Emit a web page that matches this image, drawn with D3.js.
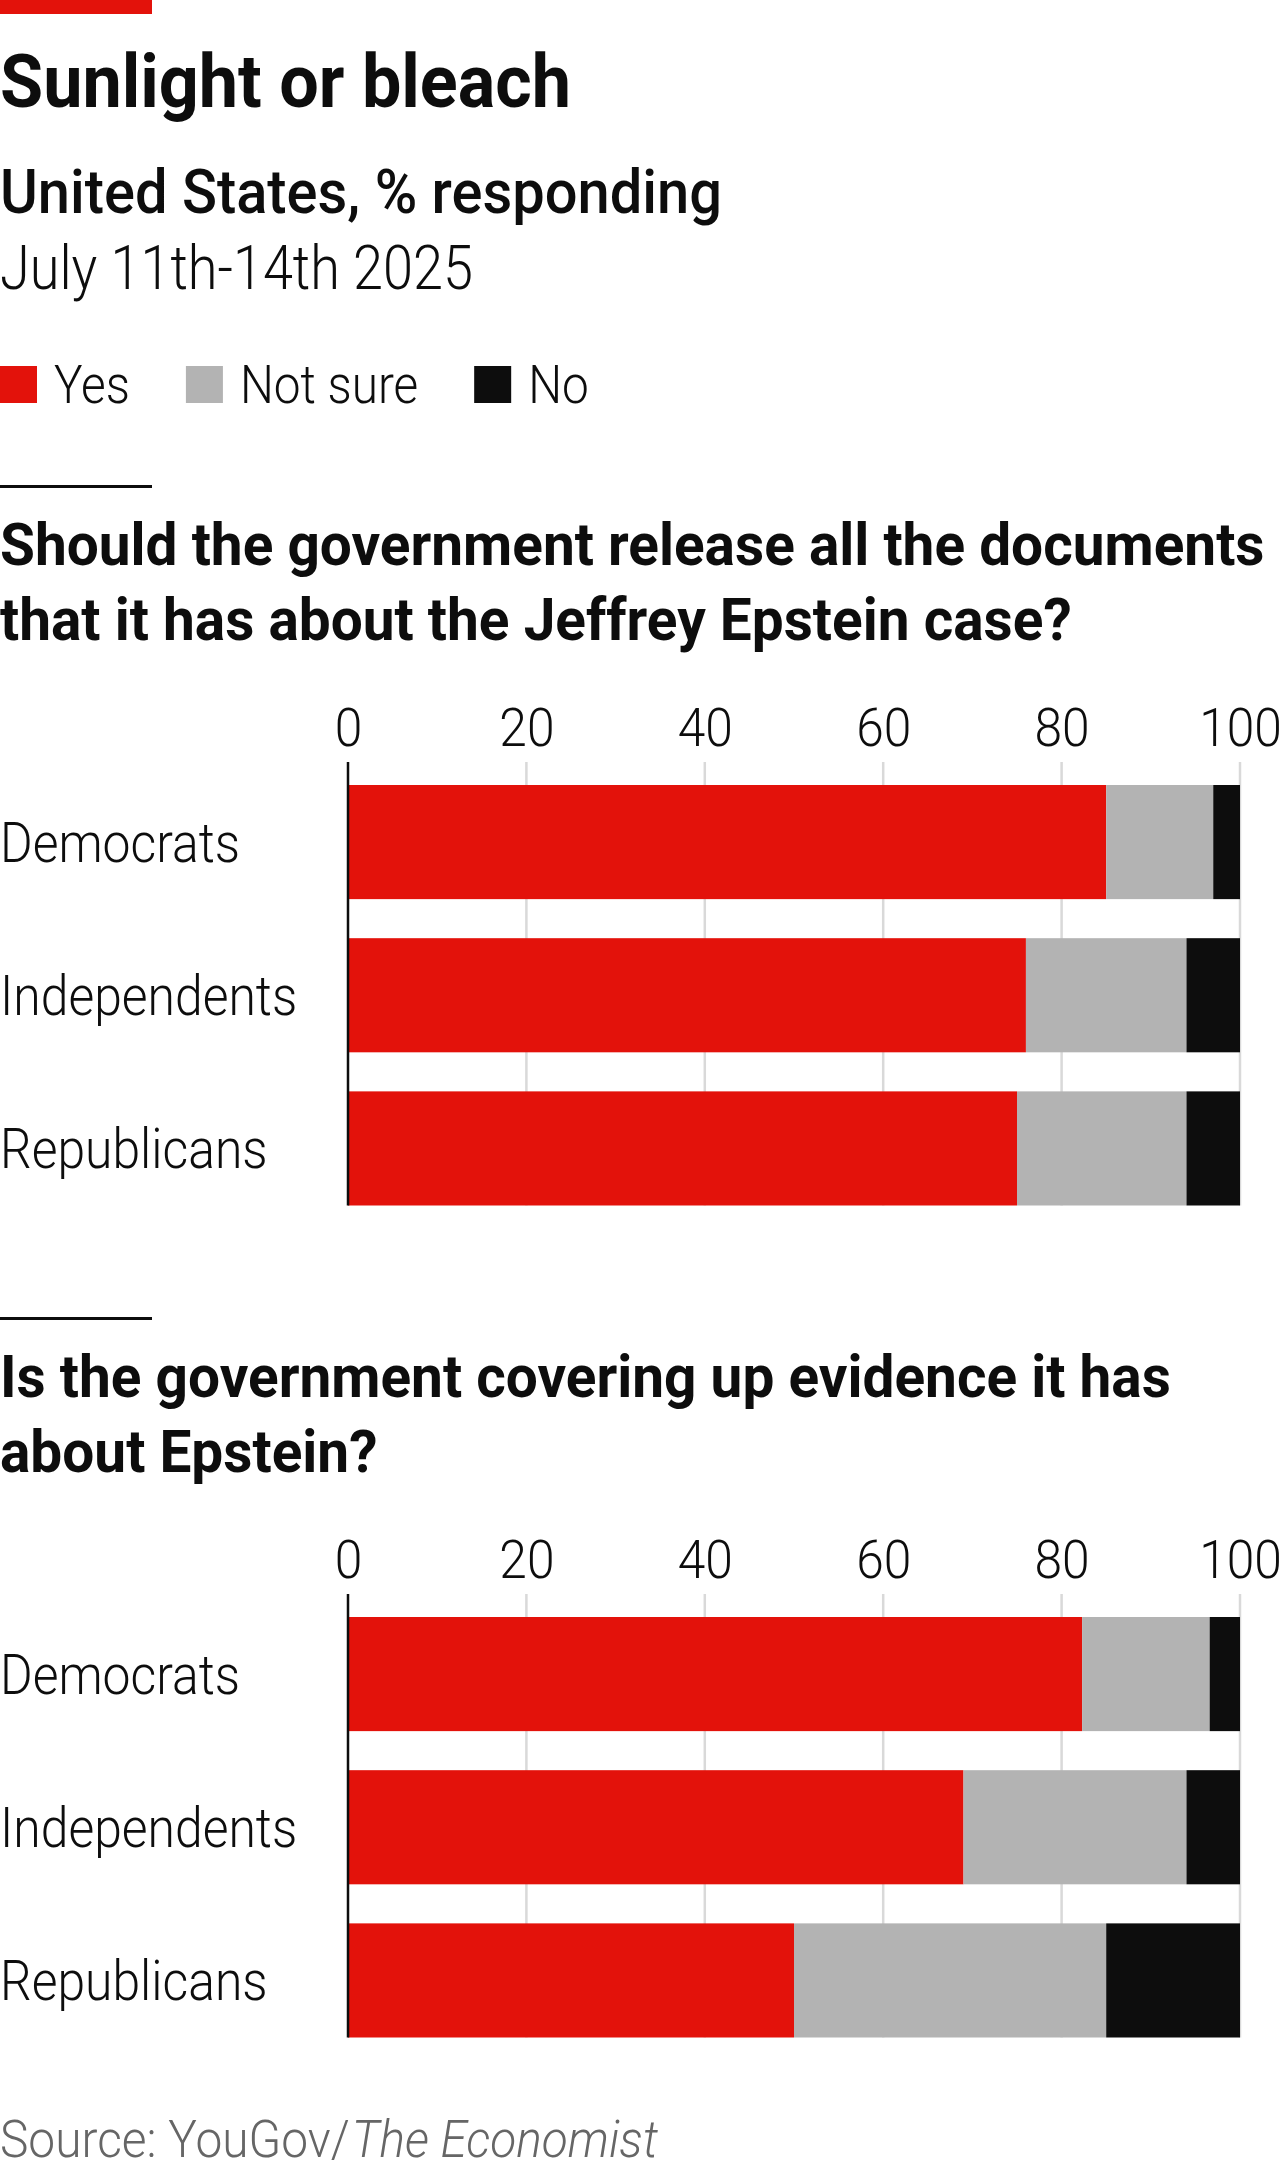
<!DOCTYPE html>
<html>
<head>
<meta charset="utf-8">
<script src="https://cdn.jsdelivr.net/npm/d3@7/dist/d3.min.js"></script>
<style>
  body { margin: 0; background: #fff; }
  text { font-family: Roboto, "Liberation Sans", sans-serif; fill: #0d0d0d; }
</style>
</head>
<body>
<div id="chart"></div>
<script>
//Data
var groups = ["Democrats", "Independents", "Republicans"];
var answers = ["Yes", "Not sure", "No"];

//Should the government release all the documents...
var releaseYes = [85, 76, 75];
var releaseNotSure = [12, 18, 19];
var releaseNo = [3, 6, 6];

//Is the government covering up evidence...
var coverYes = [82.3, 69, 50];
var coverNotSure = [14.3, 25, 35];
var coverNo = [3.4, 6, 15];

var xTicks = [0, 20, 40, 60, 80, 100];

var question1 = ["Should the government release all the documents",
                 "that it has about the Jeffrey Epstein case?"];
var question2 = ["Is the government covering up evidence it has",
                 "about Epstein?"];

//Width and height
var w = 1280;
var h = 2171;

var colors = d3.scaleOrdinal()
  .domain(answers)
  .range(["#e3120b", "#b3b3b3", "#0d0d0d"]);

var xScale = d3.scaleLinear()
  .domain([0, 100])
  .range([348, 1240]);

//squeeze text to a width (the Economist face is condensed)
var fit = function(sel, width) {
  sel.attr("textLength", width).attr("lengthAdjust", "spacingAndGlyphs");
};
var condense = function(sel, k) {
  sel.each(function() {
    var len = this.getComputedTextLength();
    d3.select(this).attr("textLength", len * k).attr("lengthAdjust", "spacingAndGlyphs");
  });
};

var svg = d3.select("#chart")
  .append("svg")
  .attr("width", w)
  .attr("height", h);

//Red tab and headings
svg.append("rect")
  .attr("x", 0).attr("y", 0)
  .attr("width", 152).attr("height", 14)
  .attr("fill", "#e3120b");

svg.append("text")
  .attr("x", 0).attr("y", 107)
  .attr("font-size", 75).attr("font-weight", 700)
  .text("Sunlight or bleach")
  .call(fit, 571);

svg.append("text")
  .attr("x", 0).attr("y", 213)
  .attr("font-size", 62).attr("font-weight", 500)
  .text("United States, % responding")
  .call(fit, 722);

svg.append("text")
  .attr("x", 0).attr("y", 289)
  .attr("font-size", 61).attr("font-weight", 300)
  .text("July 11th-14th 2025")
  .call(fit, 473);

//Legend
var legend = svg.append("g").attr("transform", "translate(0,366)");
var lx = 0;
answers.forEach(function(a) {
  legend.append("rect")
    .attr("x", lx).attr("y", 0)
    .attr("width", 37).attr("height", 37)
    .attr("fill", colors(a));
  var t = legend.append("text")
    .attr("x", lx + 54).attr("y", 37)
    .attr("font-size", 53).attr("font-weight", 300)
    .text(a)
    .call(condense, 0.9);
  lx += 54 + (+t.attr("textLength")) + 56;
});

//One panel per question
var drawPanel = function(top, question, yes, notSure, no) {

  var g = svg.append("g").attr("transform", "translate(0," + top + ")");

  g.append("rect")
    .attr("x", 0).attr("y", 0)
    .attr("width", 152).attr("height", 3)
    .attr("fill", "#0d0d0d");

  g.selectAll("text.question")
    .data(question)
    .enter()
    .append("text")
    .attr("class", "question")
    .attr("x", 0)
    .attr("y", function(d, i) { return 80 + i * 75; })
    .attr("font-size", 59).attr("font-weight", 700)
    .text(function(d) { return d; })
    .call(condense, 0.962);

  var rows = groups.map(function(gr, i) {
    return { group: gr, "Yes": yes[i], "Not sure": notSure[i], "No": no[i] };
  });
  var series = d3.stack().keys(answers)(rows);

  var yScale = d3.scaleBand()
    .domain(groups)
    .range([300, 720.5])
    .paddingInner(0.255)
    .paddingOuter(0);

  var axisTop = 277;
  var axisBottom = yScale.range()[1];

  //Gridlines
  g.selectAll("line.grid")
    .data(xTicks.slice(1))
    .enter()
    .append("line")
    .attr("class", "grid")
    .attr("x1", function(d) { return xScale(d); })
    .attr("x2", function(d) { return xScale(d); })
    .attr("y1", axisTop).attr("y2", axisBottom)
    .attr("stroke", "#d9d9d9")
    .attr("stroke-width", 2.5);

  //Tick labels
  var xAxis = d3.axisTop(xScale)
    .tickValues(xTicks)
    .tickSize(0)
    .tickPadding(0);

  var ax = g.append("g")
    .attr("transform", "translate(0,261)")
    .call(xAxis);
  ax.select(".domain").remove();
  ax.selectAll("text")
    .attr("dy", 0)
    .attr("y", 0)
    .attr("font-size", 54)
    .attr("font-weight", 300)
    .attr("font-family", "Roboto, sans-serif")
    .attr("fill", "#0d0d0d")
    .call(condense, 0.92);

  //Bars
  g.selectAll("g.series")
    .data(series)
    .enter()
    .append("g")
    .attr("class", "series")
    .attr("fill", function(d) { return colors(d.key); })
    .selectAll("rect")
    .data(function(d) { return d; })
    .enter()
    .append("rect")
    .attr("x", function(d) { return xScale(d[0]); })
    .attr("y", function(d) { return yScale(d.data.group); })
    .attr("width", function(d) { return xScale(d[1]) - xScale(d[0]); })
    .attr("height", yScale.bandwidth());

  //Zero line
  g.append("line")
    .attr("x1", xScale(0)).attr("x2", xScale(0))
    .attr("y1", axisTop).attr("y2", axisBottom)
    .attr("stroke", "#0d0d0d")
    .attr("stroke-width", 2.5);

  //Category labels
  g.selectAll("text.cat")
    .data(groups)
    .enter()
    .append("text")
    .attr("class", "cat")
    .attr("x", 0)
    .attr("y", function(d) { return yScale(d) + yScale.bandwidth() / 2 + 20; })
    .attr("font-size", 56).attr("font-weight", 300)
    .text(function(d) { return d; })
    .call(condense, 0.89);
};

drawPanel(485, question1, releaseYes, releaseNotSure, releaseNo);
drawPanel(1317, question2, coverYes, coverNotSure, coverNo);

//Source
var src = svg.append("text")
  .attr("x", 0).attr("y", 2157)
  .attr("font-size", 52).attr("font-weight", 300)
  .style("fill", "#666666")
  .text("Source: YouGov/")
  .call(condense, 0.92);
svg.append("text")
  .attr("x", +src.attr("textLength") + 2).attr("y", 2157)
  .attr("font-size", 52).attr("font-weight", 300)
  .attr("font-style", "italic")
  .style("fill", "#666666")
  .text("The Economist")
  .call(condense, 0.92);
</script>
</body>
</html>
